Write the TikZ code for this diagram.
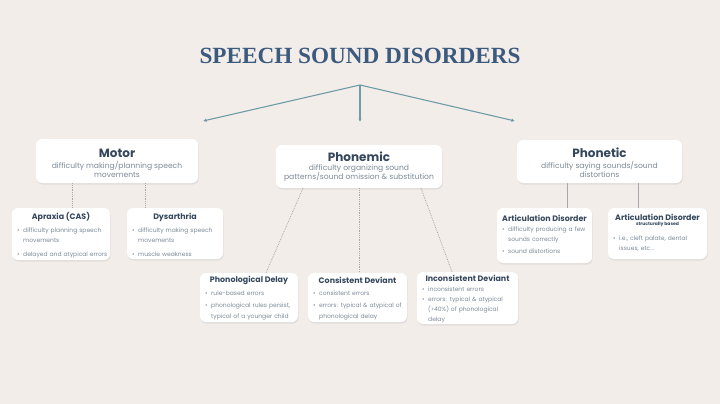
\documentclass[tikz,border=0pt]{standalone}
\usepackage{fontspec}
\setmainfont{Poppins}
\newfontfamily\titlefont{Liberation Serif}
\usetikzlibrary{shadows,arrows.meta}
\definecolor{bg}{HTML}{F3EDEA}
\definecolor{ttl}{HTML}{3B5A7E}
\definecolor{hd}{HTML}{34475C}
\definecolor{bd}{HTML}{7D8A98}
\definecolor{arrc}{HTML}{6E9CA6}
\definecolor{con}{HTML}{A8A8A8}
\newcommand\bitem[1]{\par\hangindent=6pt\hangafter=1\noindent\makebox[6pt][l]{\textbullet}#1\par}
\newcommand\isep[1]{\setlength{\parskip}{#1}\raggedright}
\tikzset{
  box/.style={draw=none, fill=white, rounded corners=6pt, inner sep=0pt,
    drop shadow={shadow xshift=0.6pt, shadow yshift=-1.5pt, opacity=0.15}},
  hone/.style={inner sep=0pt, text=hd, font=\fontsize{12}{14}\selectfont\bfseries},
  subt/.style={inner sep=0pt, text=bd, align=center, font=\fontsize{7.6}{9.5}\selectfont},
  htwo/.style={inner sep=0pt, text=hd, font=\fontsize{7.9}{9}\selectfont\bfseries},
  blist/.style={inner sep=0pt, text=bd, anchor=north west,
    font=\fontsize{6}{10}\selectfont},
  arr/.style={draw=arrc, line width=1.1pt, -{Latex[length=3.5pt,width=3.5pt]}},
  dotconn/.style={draw=con, line width=0.8pt, densely dotted},
  solconn/.style={draw=con, line width=0.7pt},
}
\begin{document}
\begin{tikzpicture}[x=1pt,y=-1pt]
\fill[bg] (0,0) rectangle (720,404);
\useasboundingbox (0,0) rectangle (720,404);

% title
\node[inner sep=0pt, text=ttl, font=\titlefont\fontsize{23.2}{26}\selectfont\bfseries] (title) at (360,56) {SPEECH SOUND DISORDERS};

% arrows
\coordinate (apex) at (360,85);
\coordinate (aL) at (203,121);
\coordinate (aC) at (360,122);
\coordinate (aR) at (515,121);
\draw[arr] (apex) -- (aL);
\draw[arr] (apex) -- (aR);
\draw[arr] (apex) -- (aC);

% level 1 boxes
\node[box, minimum width=162pt, minimum height=44pt] (motor) at (117,161) {};
\node[box, minimum width=166pt, minimum height=43pt] (phonemic) at (359,166.5) {};
\node[box, minimum width=165pt, minimum height=43pt] (phonetic) at (599.5,161.5) {};

\node[hone] (motorT) at (117,153) {Motor};
\node[subt] (motorS) at (117,169.5) {difficulty making/planning speech\\movements};
\node[hone] (phonemicT) at (359,157) {Phonemic};
\node[subt] (phonemicS) at (359,173) {difficulty organizing sound\\patterns/sound omission \& substitution};
\node[hone] (phoneticT) at (599.5,153) {Phonetic};
\node[subt] (phoneticS) at (599.5,169.5) {difficulty saying sounds/sound\\distortions};

% level 2 boxes
\node[box, minimum width=98pt, minimum height=52pt] (apraxia) at (61,234) {};
\node[box, minimum width=96pt, minimum height=51pt] (dysarthria) at (175,233.5) {};
\node[box, minimum width=95pt, minimum height=55pt] (artic) at (544.5,235.5) {};
\node[box, minimum width=99pt, minimum height=51pt] (articS) at (657.5,233.5) {};
\node[box, minimum width=98pt, minimum height=49pt] (pdelay) at (249,297.5) {};
\node[box, minimum width=99pt, minimum height=49pt] (cdev) at (357.5,297.5) {};
\node[box, minimum width=101pt, minimum height=52pt] (idev) at (467.5,298) {};

% connectors
\coordinate (cA) at (72,0);
\coordinate (cD) at (145,0);
\draw[dotconn] (motor.south -| cA) -- (apraxia.north -| cA);
\draw[dotconn] (motor.south -| cD) -- (dysarthria.north -| cD);
\coordinate (pL1) at (303,0);
\coordinate (pL2) at (266,0);
\coordinate (pR1) at (421,0);
\coordinate (pR2) at (452,0);
\draw[dotconn] (phonemic.south -| pL1) -- (pdelay.north -| pL2);
\draw[dotconn] (phonemic.south) -- (cdev.north -| phonemic.south);
\draw[dotconn] (phonemic.south -| pR1) -- (idev.north -| pR2);
\coordinate (tA) at (567,0);
\coordinate (tS) at (638,0);
\draw[solconn] (phonetic.south -| tA) -- (artic.north -| tA);
\draw[solconn] (phonetic.south -| tS) -- (articS.north -| tS);

% level 2 texts
\node[htwo] (apraxiaT) at (61,217) {Apraxia (CAS)};
\node[blist, text width=92pt] (apraxiaL) at (17,218) {\isep{4pt}\bitem{difficulty planning speech\newline movements}\bitem{delayed and atypical errors}};
\node[htwo] (dysarthriaT) at (175,217) {Dysarthria};
\node[blist, text width=90pt] (dysarthriaL) at (132,218) {\isep{4pt}\bitem{difficulty making speech\newline movements}\bitem{muscle weakness}};
\node[htwo] (articT) at (544.5,218) {Articulation Disorder};
\node[blist, text width=90pt] (articL) at (502,218.5) {\isep{2.5pt}\bitem{difficulty producing a few\newline sounds correctly}\bitem{sound distortions}};
\node[htwo] (articST) at (657.5,217) {Articulation Disorder};
\node[inner sep=0pt, text=hd, font=\fontsize{4.5}{5}\selectfont\bfseries] (articSS) at (657.5,224.5) {structurally based};
\node[blist, text width=92pt] (articSL) at (613,228) {\isep{2.5pt}\bitem{i.e., cleft palate, dental\newline issues, etc...}};
\node[htwo] (pdelayT) at (249,280) {Phonological Delay};
\node[blist, text width=92pt, font=\fontsize{6}{11}\selectfont] (pdelayL) at (205,284) {\isep{0.5pt}\bitem{rule-based errors}\bitem{phonological rules persist,\newline typical of a younger child}};
\node[htwo] (cdevT) at (357.5,280) {Consistent Deviant};
\node[blist, text width=92pt, font=\fontsize{6}{11}\selectfont] (cdevL) at (313,284) {\isep{0.5pt}\bitem{consistent errors}\bitem{errors: typical \& atypical of\newline phonological delay}};
\node[htwo] (idevT) at (467.5,278) {Inconsistent Deviant};
\node[blist, text width=94pt] (idevL) at (422,280.5) {\isep{0.5pt}\bitem{inconsistent errors}\bitem{errors: typical \& atypical\newline (>40\%) of phonological\newline delay}};
\end{tikzpicture}
\end{document}
